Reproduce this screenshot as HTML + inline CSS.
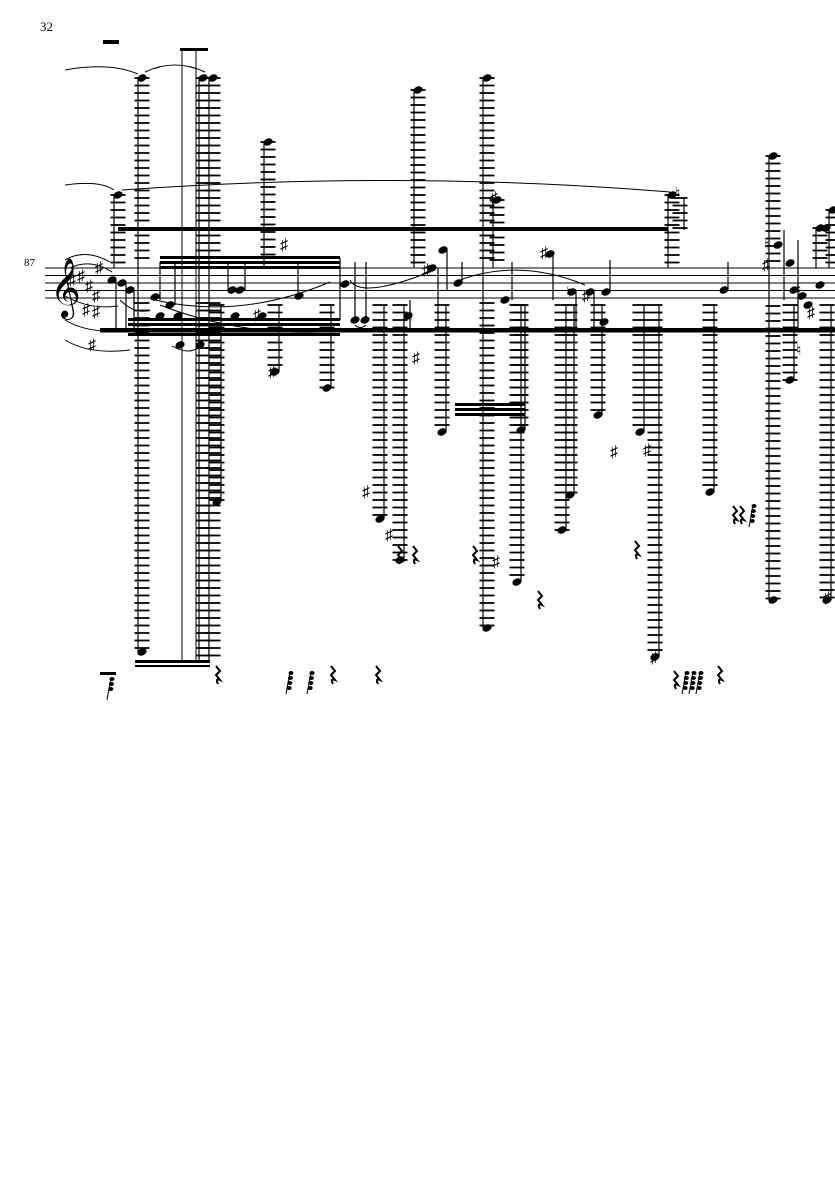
<!DOCTYPE html>
<html><head><meta charset="utf-8">
<style>
html,body{margin:0;padding:0;background:#fff;}
svg{display:block;}
text{font-family:"Liberation Serif",serif;}
</style></head>
<body>
<svg id="s" width="835" height="1181" xmlns="http://www.w3.org/2000/svg">
<rect width="835" height="1181" fill="#fff"/>
<text x="40" y="31" font-size="13">32</text>
<text x="24" y="266" font-size="11">87</text>
<g id="g" stroke="#000" fill="#000"></g>
<text x="50" y="305" font-size="52">𝄞</text>
</svg>
<script>
var g=document.getElementById('g');var NS='http://www.w3.org/2000/svg';
function el(t,a){var e=document.createElementNS(NS,t);for(var k in a)e.setAttribute(k,a[k]);g.appendChild(e);return e;}
function L(x1,y1,x2,y2,w){el('line',{x1:x1,y1:y1,x2:x2,y2:y2,'stroke-width':w||1});}
var ST=[268,275.5,283,290.5,298];
ST.forEach(function(y){L(45,y,835,y,0.9);});
el('rect',{x:118,y:227,width:550,height:4,stroke:'none'});
el('rect',{x:100,y:328,width:735,height:4.5,stroke:'none'});
for(var i=0;i<4;i++){el('rect',{x:128,y:318+i*5,width:212,height:3,stroke:'none'});}
for(var i=0;i<3;i++){el('rect',{x:160,y:256+i*5,width:180,height:3,stroke:'none'});}
for(var i=0;i<3;i++){el('rect',{x:455,y:403+i*5,width:70,height:3,stroke:'none'});}
el('rect',{x:135,y:660,width:75,height:3,stroke:'none'});el('rect',{x:135,y:665,width:75,height:2,stroke:'none'});
el('rect',{x:180,y:48,width:28,height:3,stroke:'none'});el('rect',{x:103,y:40,width:16,height:4,stroke:'none'});
function ladder(x,y1,y2){for(var y=y1;y<=y2;y+=7.5){if(y>263&&y<303)continue;L(x-7.5,y,x+7.5,y,1.8);} }
function note(x,y){el('ellipse',{cx:x,cy:y,rx:4.8,ry:3.5,transform:'rotate(-25 '+x+' '+y+')',stroke:'none'});}
function stem(x,y1,y2,w){L(x,y1,x,y2,w||1.2);}
var S=[
[142,78,652,1,1],[203,78,660,1,0],[213,78,660,1,0],[118,195,268,1,0],[268,142,268,1,0],
[418,90,268,1,0],[487,78,628,1,1],[497,200,268,1,0],[672,195,268,1,0],[680,198,230,0,0],
[773,156,600,1,1],[820,228,268,1,0],[833,210,268,1,0],
[217,305,502,0,1],[275,305,372,0,1],[327,305,388,0,1],[380,305,519,0,1],[400,305,560,0,1],
[442,305,432,0,1],[517,305,582,0,1],[521,305,430,0,1],[562,305,530,0,1],[570,305,495,0,1],
[598,305,415,0,1],[640,305,432,0,1],[655,305,657,0,1],[710,305,492,0,1],[790,305,380,0,1],[827,305,600,0,1]];
S.forEach(function(s){ladder(s[0],s[1],s[2]);stem(s[0]+(s[3]?-4:4),s[1],s[2]);if(s[3])note(s[0],s[1]);if(s[4])note(s[0],s[2]);});
stem(196,50,660,1);stem(182,50,660,1);
[[112,280],[122,283],[130,290],[155,297],[170,305],[160,316],[178,316],[180,345],[200,345],[232,290],[240,290],[235,316],[262,316],[299,296],[345,284],[355,320],[365,320],[408,316],[432,268],[443,250],[458,283],[505,300],[550,254],[572,292],[590,292],[606,292],[604,322],[724,290],[790,263],[778,245],[794,290],[802,296],[820,285],[808,305],[826,228]].forEach(function(p){note(p[0],p[1]);});
[[116,280,330],[126,283,330],[134,290,330],[160,262,300],[175,262,305],[228,262,290],[245,262,290],[298,296,262],[340,258,320],[355,262,320],[366,262,320],[410,300,330],[438,268,330],[447,250,290],[462,283,262],[512,262,300],[553,254,300],[576,292,330],[594,292,330],[610,260,292],[728,262,290],[784,230,300],[798,240,330]].forEach(function(s){stem(s[0],s[1],s[2]);});
function P(d,w){el('path',{d:d,fill:'none','stroke-width':w||1});}
P('M65 70 Q110 62 138 74');P('M145 72 Q175 58 205 72');P('M65 185 Q100 180 114 190');
P('M122 190 Q400 170 670 192');P('M65 320 Q90 335 130 330');P('M65 340 Q90 355 130 350');
P('M65 260 Q85 248 110 262');P('M70 268 Q90 258 112 272');P('M155 300 Q240 320 330 282');
P('M160 305 Q250 340 350 330');P('M350 280 Q360 300 435 270',1);P('M460 280 Q520 258 585 285');
P('M172 346 Q190 356 200 346');P('M355 325 Q360 330 366 325');P('M65 296 Q90 310 118 306');P('M120 300 Q135 315 150 310');
function sharp(x,y){var t=document.createElementNS(NS,'text');t.setAttribute('x',x);t.setAttribute('y',y+5);t.setAttribute('font-size','16');t.setAttribute('font-family','DejaVu Sans');t.textContent='♯';t.setAttribute('stroke','none');g.appendChild(t);}
function nat(x,y){var t=document.createElementNS(NS,'text');t.setAttribute('x',x);t.setAttribute('y',y+5);t.setAttribute('font-size','15');t.setAttribute('font-family','DejaVu Sans');t.textContent='♮';t.setAttribute('stroke','none');g.appendChild(t);}
[[68,280],[77,276],[85,286],[92,296],[92,312],[82,310],[95,268],[88,345],[253,315],[280,245],[422,270],[490,198],[540,253],[582,296],[610,452],[362,492],[385,535],[492,562],[643,450],[762,265],[807,313],[823,598],[650,658],[268,372],[412,358]].forEach(function(p){sharp(p[0],p[1]);});
[[675,193],[764,245],[408,316],[566,292],[796,290],[796,350]].forEach(function(p){nat(p[0],p[1]);});
function rest(x,y){P('M'+(x-2)+' '+(y-9)+' l4 5 l-4 4 l4 5 q-5 -2 -2 4',2);}
[[218,675],[333,675],[378,675],[400,555],[415,555],[475,555],[540,600],[637,550],[720,675],[735,515],[742,515],[676,680]].forEach(function(p){rest(p[0],p[1]);});
function frest(x,y,n){L(x+3,y-10,x-1,y+12,1);for(var i=0;i<n;i++){el('ellipse',{cx:x+4-i*0.6,cy:y-9+i*5,rx:2.5,ry:2,stroke:'none'});}}
[[287,682,4],[308,682,4],[683,682,4],[690,682,4],[697,682,4],[750,515,4],[108,688,3]].forEach(function(p){frest(p[0],p[1],p[2]);});
el('rect',{x:100,y:672,width:16,height:3,stroke:'none'});
</script>
</body></html>
